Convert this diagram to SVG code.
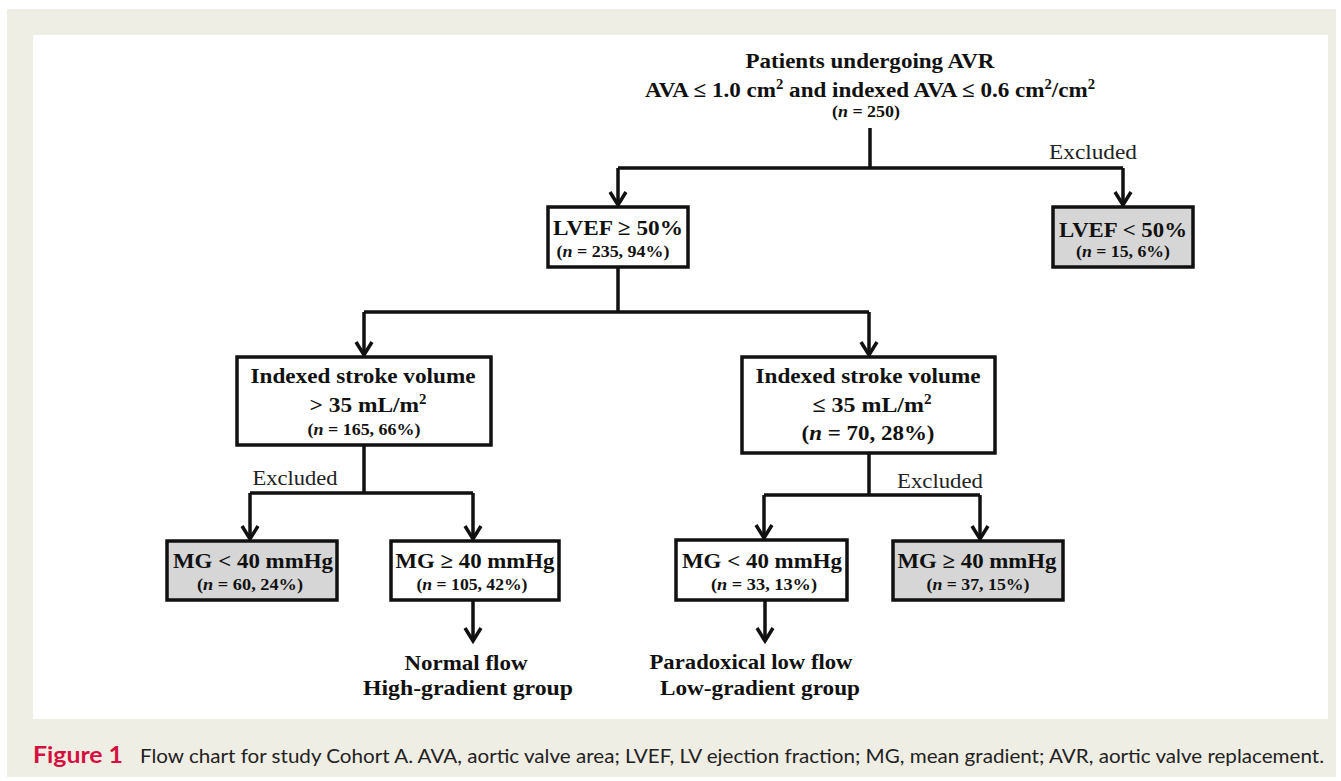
<svg xmlns="http://www.w3.org/2000/svg" width="1341" height="781" viewBox="0 0 1341 781">
<style>
.t{font-family:"Liberation Serif","Times New Roman",serif;font-weight:bold;fill:#111;text-anchor:middle}
.m{font-size:22px}
.s{font-size:16px}
.x{font-family:"Liberation Serif","Times New Roman",serif;font-size:22px;fill:#222;text-anchor:middle}
.box{fill:#fff;stroke:#111;stroke-width:3.5}
.gbox{fill:#d6d6d6;stroke:#111;stroke-width:3.5}
.ln{fill:none;stroke:#111;stroke-width:3.5}
.cap{font-family:Lato,"Open Sans",sans-serif;font-size:20px;fill:#222}
</style>
<defs>
<marker id="ah" markerUnits="userSpaceOnUse" markerWidth="30" markerHeight="30" refX="14" refY="15" orient="auto">
<path d="M1,7 L14,15 L1,23" fill="none" stroke="#111" stroke-width="3.5"/>
</marker>
</defs>
<rect x="7" y="9" width="1329" height="768" fill="#efeee4"/>
<rect x="33" y="35" width="1295" height="684" fill="#fff"/>

<g id="connectors">
<path class="ln" d="M870,128 V168 M618,168 H1123"/>
<path class="ln" d="M618,168 V205" marker-end="url(#ah)"/>
<path class="ln" d="M1123,168 V205" marker-end="url(#ah)"/>
<path class="ln" d="M618,267 V312 M364,312 H869"/>
<path class="ln" d="M364,312 V355" marker-end="url(#ah)"/>
<path class="ln" d="M869,312 V355" marker-end="url(#ah)"/>
<path class="ln" d="M364,445 V493 M250,493 H473"/>
<path class="ln" d="M250,493 V539" marker-end="url(#ah)"/>
<path class="ln" d="M473,493 V539" marker-end="url(#ah)"/>
<path class="ln" d="M869,453 V495 M764,495 H980"/>
<path class="ln" d="M764,495 V538" marker-end="url(#ah)"/>
<path class="ln" d="M980,495 V539" marker-end="url(#ah)"/>
<path class="ln" d="M473,600 V641" marker-end="url(#ah)"/>
<path class="ln" d="M765,600 V641" marker-end="url(#ah)"/>
<text class="x" x="1093" y="159" textLength="88" lengthAdjust="spacingAndGlyphs">Excluded</text>
<text class="x" x="295" y="485" textLength="85" lengthAdjust="spacingAndGlyphs">Excluded</text>
<text class="x" x="940" y="488" textLength="86" lengthAdjust="spacingAndGlyphs">Excluded</text>
</g>

<g id="root">
<text class="t m" x="870" y="68" textLength="249" lengthAdjust="spacingAndGlyphs">Patients undergoing AVR</text>
<text class="t m" x="870" y="97" textLength="450" lengthAdjust="spacingAndGlyphs">AVA ≤ 1.0 cm<tspan font-size="14" dy="-8">2</tspan><tspan dy="8"> and indexed AVA ≤ 0.6 cm</tspan><tspan font-size="14" dy="-8">2</tspan><tspan dy="8">/cm</tspan><tspan font-size="14" dy="-8">2</tspan></text>
<text class="t s" x="866" y="117" textLength="68" lengthAdjust="spacingAndGlyphs">(<tspan font-style="italic">n</tspan> = 250)</text>
</g>

<g id="lvef-ge50">
<rect class="box" x="548" y="207" width="140" height="60"/>
<text class="t m" x="618" y="235" textLength="130" lengthAdjust="spacingAndGlyphs">LVEF ≥ 50%</text>
<text class="t s" x="613" y="257" textLength="113" lengthAdjust="spacingAndGlyphs">(<tspan font-style="italic">n</tspan> = 235, 94%)</text>
</g>

<g id="lvef-lt50">
<rect class="gbox" x="1053" y="207" width="140" height="60"/>
<text class="t m" x="1123" y="237" textLength="128" lengthAdjust="spacingAndGlyphs">LVEF &lt; 50%</text>
<text class="t s" x="1123" y="257" textLength="94" lengthAdjust="spacingAndGlyphs">(<tspan font-style="italic">n</tspan> = 15, 6%)</text>
</g>

<g id="svi-gt35">
<rect class="box" x="237" y="357" width="254" height="88"/>
<text class="t m" x="363" y="383" textLength="225" lengthAdjust="spacingAndGlyphs">Indexed  stroke volume</text>
<text class="t m" x="368" y="412" textLength="117" lengthAdjust="spacingAndGlyphs">&gt; 35 mL/m<tspan font-size="14" dy="-8">2</tspan></text>
<text class="t s" x="364" y="435" textLength="113" lengthAdjust="spacingAndGlyphs">(<tspan font-style="italic">n</tspan> = 165, 66%)</text>
</g>

<g id="svi-le35">
<rect class="box" x="742" y="357" width="253" height="96"/>
<text class="t m" x="868" y="383" textLength="225" lengthAdjust="spacingAndGlyphs">Indexed  stroke volume</text>
<text class="t m" x="872" y="412" textLength="119" lengthAdjust="spacingAndGlyphs">≤ 35 mL/m<tspan font-size="14" dy="-8">2</tspan></text>
<text class="t m" x="868" y="440" textLength="133" lengthAdjust="spacingAndGlyphs">(<tspan font-style="italic">n</tspan> = 70, 28%)</text>
</g>

<g id="mg-lt40-a">
<rect class="gbox" x="167" y="541" width="170" height="59"/>
<text class="t m" x="253" y="568" textLength="160" lengthAdjust="spacingAndGlyphs">MG &lt; 40 mmHg</text>
<text class="t s" x="250" y="590" textLength="106" lengthAdjust="spacingAndGlyphs">(<tspan font-style="italic">n</tspan> = 60, 24%)</text>
</g>

<g id="mg-ge40-a">
<rect class="box" x="391" y="541" width="168" height="59"/>
<text class="t m" x="475" y="568" textLength="159" lengthAdjust="spacingAndGlyphs">MG ≥ 40 mmHg</text>
<text class="t s" x="472" y="590" textLength="111" lengthAdjust="spacingAndGlyphs">(<tspan font-style="italic">n</tspan> = 105, 42%)</text>
</g>

<g id="mg-lt40-b">
<rect class="box" x="676" y="540" width="171" height="60"/>
<text class="t m" x="762" y="568" textLength="160" lengthAdjust="spacingAndGlyphs">MG &lt; 40 mmHg</text>
<text class="t s" x="764" y="590" textLength="106" lengthAdjust="spacingAndGlyphs">(<tspan font-style="italic">n</tspan> = 33, 13%)</text>
</g>

<g id="mg-ge40-b">
<rect class="gbox" x="893" y="541" width="170" height="59"/>
<text class="t m" x="977" y="568" textLength="159" lengthAdjust="spacingAndGlyphs">MG ≥ 40 mmHg</text>
<text class="t s" x="978" y="590" textLength="103" lengthAdjust="spacingAndGlyphs">(<tspan font-style="italic">n</tspan> = 37, 15%)</text>
</g>

<g id="normal-flow">
<text class="t m" x="466" y="670" textLength="123" lengthAdjust="spacingAndGlyphs">Normal flow</text>
<text class="t m" x="468" y="695" textLength="210" lengthAdjust="spacingAndGlyphs">High-gradient group</text>
</g>

<g id="paradoxical">
<text class="t m" x="751" y="669" textLength="203" lengthAdjust="spacingAndGlyphs">Paradoxical low flow</text>
<text class="t m" x="760" y="695" textLength="200" lengthAdjust="spacingAndGlyphs">Low-gradient group</text>
</g>

<g id="caption">
<text x="33" y="763" style="font-family:Lato,'Open Sans',sans-serif;font-weight:bold;font-size:23px;fill:#d3103f" textLength="90" lengthAdjust="spacingAndGlyphs">Figure 1</text>
<text class="cap" x="140" y="763" textLength="1184" lengthAdjust="spacingAndGlyphs">Flow chart for study Cohort A. AVA, aortic valve area; LVEF, LV ejection fraction; MG, mean gradient; AVR, aortic valve replacement.</text>
</g>
</svg>
